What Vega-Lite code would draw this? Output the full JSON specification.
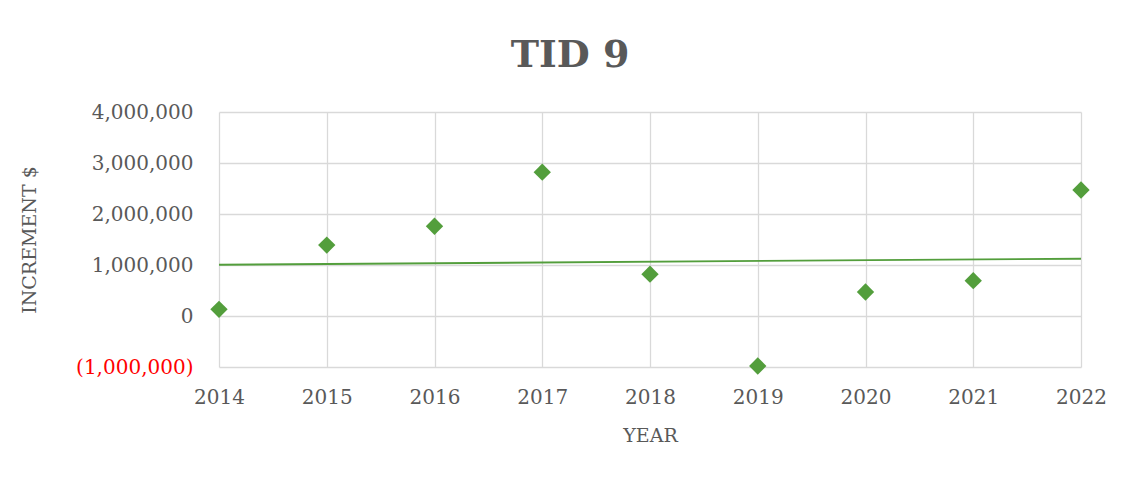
{
  "$schema": "https://vega.github.io/schema/vega-lite/v6.json",
  "width": 862,
  "height": 255,
  "autosize": "none",
  "padding": {"left": 219, "top": 112, "right": 49, "bottom": 110},
  "background": "white",
  "title": {
    "text": "TID 9",
    "font": "DejaVu Serif",
    "fontSize": 38,
    "fontWeight": "bold",
    "color": "#595959",
    "letterSpacing": 3,
    "anchor": "middle",
    "baseline": "alphabetic",
    "offset": -3,
    "dx": -80
  },
  "config": {
    "view": {"stroke": null},
    "font": "DejaVu Serif",
    "axis": {
      "gridColor": "#d9d9d9",
      "gridWidth": 1.3,
      "domain": false,
      "ticks": false,
      "tickSize": 0,
      "labelFont": "DejaVu Serif",
      "labelFontSize": 20,
      "labelColor": "#595959",
      "titleFont": "DejaVu Serif",
      "titleFontSize": 19,
      "titleFontWeight": "normal",
      "titleColor": "#595959"
    }
  },
  "data": {
    "values": [
      {"year": 2014, "value": 131000},
      {"year": 2015, "value": 1390000},
      {"year": 2016, "value": 1760000},
      {"year": 2017, "value": 2820000},
      {"year": 2018, "value": 820000},
      {"year": 2019, "value": -980000},
      {"year": 2020, "value": 470000},
      {"year": 2021, "value": 692000},
      {"year": 2022, "value": 2470000}
    ]
  },
  "encoding": {
    "x": {
      "field": "year",
      "type": "quantitative",
      "scale": {"domain": [2014, 2022], "nice": false, "zero": false},
      "axis": {
        "title": "YEAR",
        "values": [2014, 2015, 2016, 2017, 2018, 2019, 2020, 2021, 2022],
        "format": "d",
        "labelBaseline": "middle",
        "labelPadding": 30,
        "labelFlush": false,
        "titleX": 431,
        "titleY": 68,
        "titleBaseline": "middle",
        "titleAlign": "center"
      }
    },
    "y": {
      "field": "value",
      "type": "quantitative",
      "scale": {"domain": [-1000000, 4000000], "nice": false},
      "axis": {
        "title": "INCREMENT $",
        "values": [-1000000, 0, 1000000, 2000000, 3000000, 4000000],
        "labelExpr": "datum.value < 0 ? '(' + format(-datum.value, ',') + ')' : format(datum.value, ',')",
        "labelColor": {"condition": {"test": "datum.value < 0", "value": "#ff0000"}, "value": "#595959"},
        "labelPadding": 26,
        "labelFlush": false,
        "titleX": -190,
        "titleY": 127.5,
        "titleAngle": -90,
        "titleBaseline": "middle",
        "titleAlign": "center"
      }
    }
  },
  "layer": [
    {
      "transform": [{"regression": "value", "on": "year", "extent": [2014, 2022]}],
      "mark": {"type": "line", "color": "#539E3C", "strokeWidth": 1.8}
    },
    {
      "mark": {"type": "point", "shape": "diamond", "filled": true, "size": 300, "color": "#539E3C", "opacity": 1}
    }
  ]
}
